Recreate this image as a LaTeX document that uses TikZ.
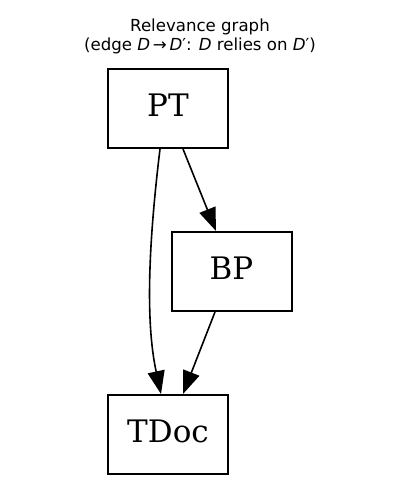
\documentclass[tikz,border=0pt]{standalone}
\usepackage{fontspec}
\setmainfont{DejaVu Sans}
\newfontfamily\nodefont{DejaVu Serif}
\usetikzlibrary{arrows.meta}
\tikzset{
  box/.style={draw, line width=2pt, minimum width=120pt, minimum height=79pt, inner sep=0pt,
    text height=22.6pt, text depth=7pt, font=\nodefont\fontsize{31}{31}\selectfont},
  edge/.style={line width=1.6pt, -{Triangle[length=23pt,width=17pt]}},
  ttl/.style={anchor=base, inner sep=0pt, font=\fontsize{16.6}{19}\selectfont}
}
\begin{document}
\begin{tikzpicture}[x=1pt,y=-1pt]
\useasboundingbox (0,0) rectangle (400,500);
\node[ttl] (t1) at (200,32) {Relevance graph};
\node[ttl] (t2) at (200,51) {(edge \textit{D}\,→\,\textit{D}′: \textit{D} relies on \textit{D}′)};
\node[box] (PT) at (168,108.5) {PT};
\node[box] (BP) at (231.5,271.5) {BP};
\node[box] (TDoc) at (168,434.5) {TDoc};
\draw[edge] ([xshift=15pt]PT.south) -- ([xshift=-15.5pt]BP.north);
\draw[edge] ([xshift=-8pt]PT.south) .. controls (149,240) and (145,320) .. ([xshift=-7pt]TDoc.north);
\draw[edge] ([xshift=-16.5pt]BP.south) -- ([xshift=15pt]TDoc.north);
\end{tikzpicture}
\end{document}
